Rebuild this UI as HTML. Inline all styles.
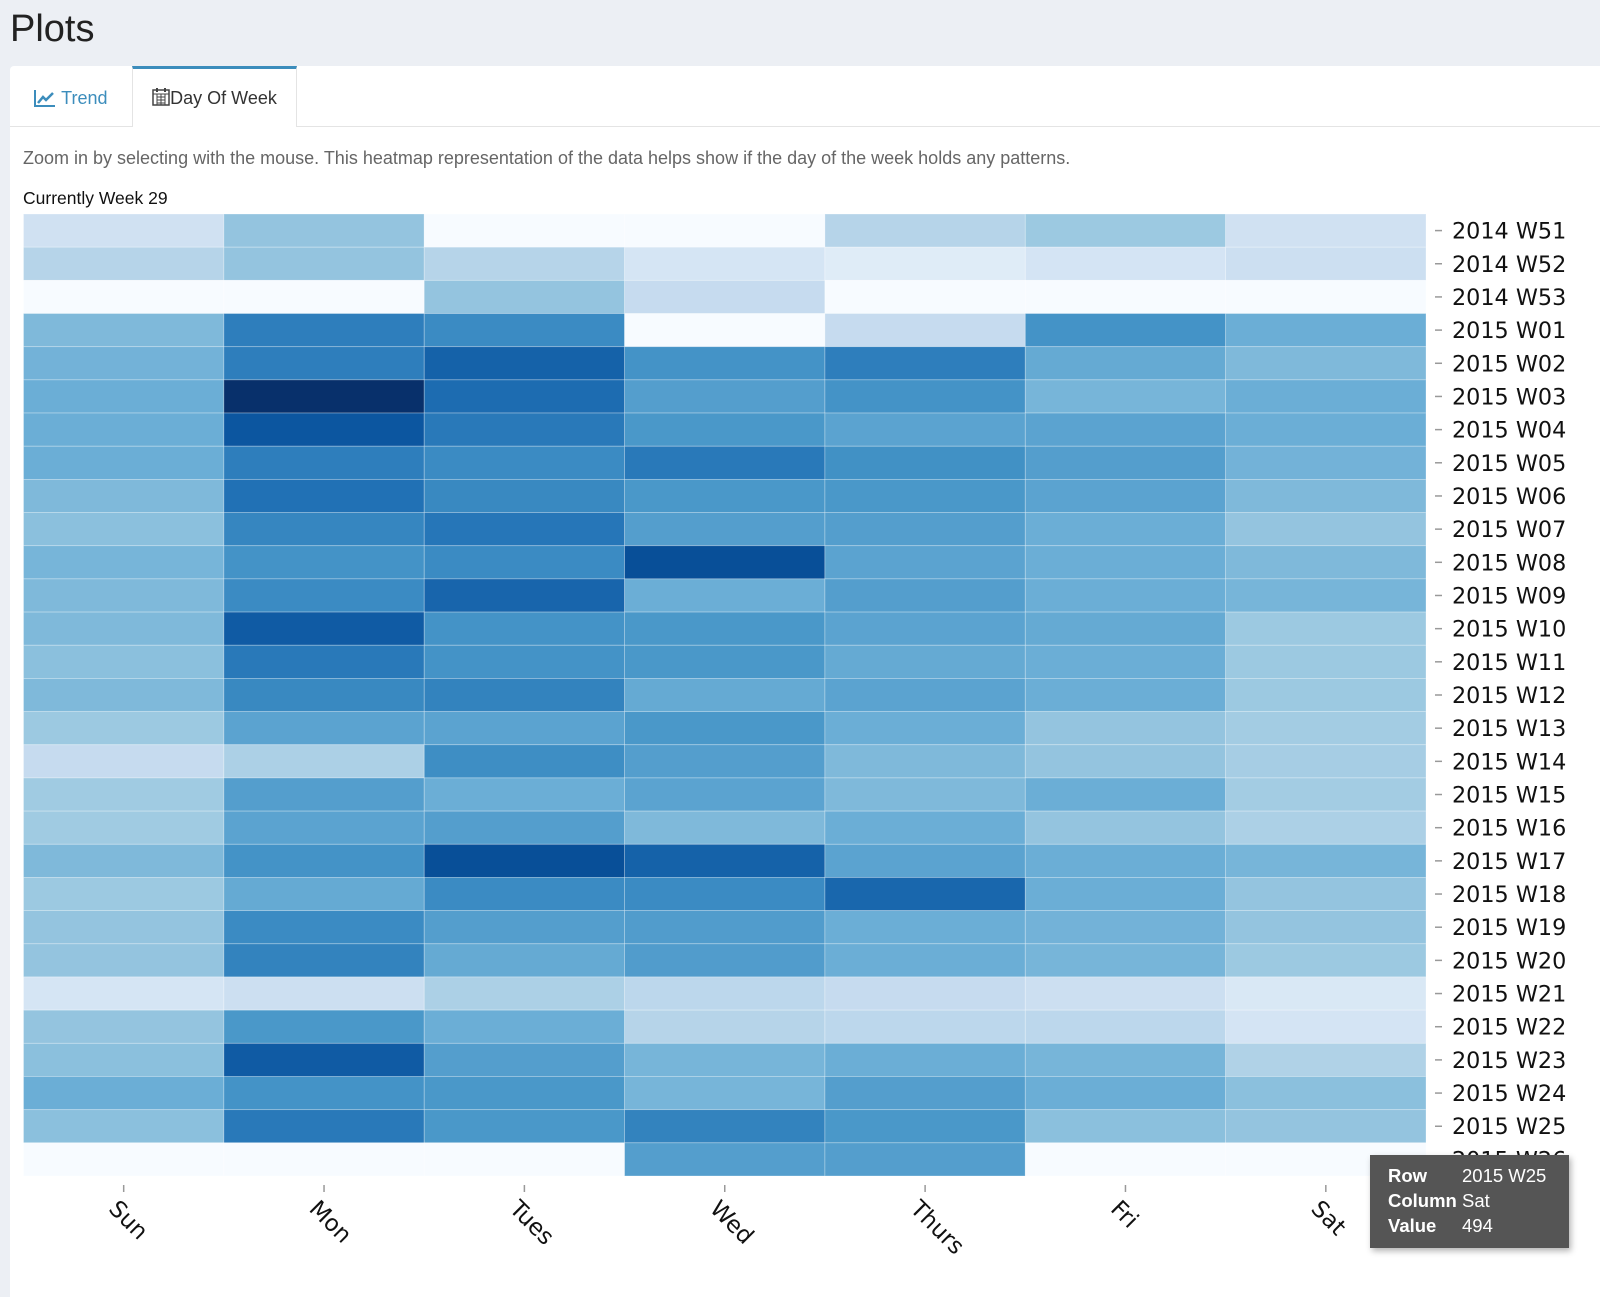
<!DOCTYPE html>
<html><head><meta charset="utf-8">
<style>
body{margin:0;width:1600px;height:1297px;background:#eceff4;font-family:"Liberation Sans",sans-serif;overflow:hidden;position:relative}
.title{position:absolute;left:10px;top:8px;font-size:38px;color:#222}
.panel{position:absolute;left:10px;top:66px;right:0;bottom:0;background:#fff;border-radius:4px 0 0 0}
.tabbar{position:absolute;left:0;top:0;right:0;height:60px;border-bottom:1px solid #e4e4e4}
.tab{position:absolute;top:0;height:60px;font-size:18px;line-height:64px}
.t1{left:0;width:122px;color:#3c8dbc;text-align:center}
.t2{left:122px;width:163px;border-top:3px solid #3c8dbc;border-right:1px solid #e4e4e4;border-left:1px solid #e4e4e4;height:58px;background:#fff;color:#333;text-align:center;line-height:58px}
.desc{position:absolute;left:13px;top:82px;font-size:18px;color:#666}
.cur{position:absolute;left:13px;top:122px;font-size:17.5px;color:#111}
svg{position:absolute;left:0;top:0}
.tip{position:absolute;left:1370px;top:1155px;width:199px;height:93px;background:#555;box-shadow:2px 3px 6px rgba(0,0,0,.3);color:#fff;font-size:18.5px}
.tip div{position:absolute;left:18px}
.tip span{position:absolute;font-weight:normal}
</style></head><body>
<div class="title">Plots</div>
<div class="panel">
 <div class="tabbar">
  <div class="tab t1">
   <svg style="position:relative;display:inline-block;vertical-align:-3px" width="22" height="18" viewBox="0 0 22 18"><path d="M1 1V17H21" fill="none" stroke="#3c8dbc" stroke-width="2"/><path d="M4 14L9 8L12 11L19 4" fill="none" stroke="#3c8dbc" stroke-width="2.5"/></svg> Trend</div>
  <div class="tab t2">
   <svg style="position:relative;display:inline-block;vertical-align:-2px" width="18" height="19" viewBox="0 0 18 19"><rect x="1" y="3" width="16" height="15" fill="none" stroke="#444" stroke-width="1.5"/><path d="M1 7H17M5 10H13M5 13H13M5 16H13M5 7V18M9 7V18M13 7V18" stroke="#444" stroke-width="1"/><path d="M5 1V5M13 1V5" stroke="#444" stroke-width="2"/></svg>Day Of Week</div>
 </div>
 <div class="desc">Zoom in by selecting with the mouse. This heatmap representation of the data helps show if the day of the week holds any patterns.</div>
 <div class="cur">Currently Week 29</div>
</div>
<svg id="chart" width="1600" height="1297"></svg>
<div class="tip">
 <div style="top:10px"><b>Row</b><span style="left:74px;white-space:nowrap">2015 W25</span></div>
 <div style="top:35px"><b>Column</b><span style="left:74px">Sat</span></div>
 <div style="top:60px"><b>Value</b><span style="left:74px">494</span></div>
</div>
<script>
const days=["Sun","Mon","Tues","Wed","Thurs","Fri","Sat"];
const weeks=["2014 W51","2014 W52","2014 W53","2015 W01","2015 W02","2015 W03","2015 W04","2015 W05","2015 W06","2015 W07","2015 W08","2015 W09","2015 W10","2015 W11","2015 W12","2015 W13","2015 W14","2015 W15","2015 W16","2015 W17","2015 W18","2015 W19","2015 W20","2015 W21","2015 W22","2015 W23","2015 W24","2015 W25","2015 W26"];
const values=[
[347,494,null,null,420,479,347],
[420,494,420,325,288,332,362],
[null,null,494,384,null,null,null],
[531,715,678,null,384,656,568],
[553,715,795,656,715,582,531],
[568,935,765,619,656,545,568],
[568,830,729,641,604,604,568],
[568,715,678,729,663,619,553],
[531,751,685,641,641,604,531],
[509,692,737,619,619,568,494],
[545,656,678,850,604,568,531],
[531,678,785,568,619,568,545],
[531,815,656,641,604,582,479],
[509,729,656,641,582,568,479],
[531,685,700,582,604,568,479],
[479,604,604,641,568,494,465],
[384,443,670,619,531,494,457],
[472,619,568,604,531,568,465],
[472,604,619,531,568,494,443],
[531,656,850,795,604,568,545],
[479,582,678,678,780,568,494],
[494,678,619,626,568,553,494],
[494,700,582,626,568,545,479],
[325,362,443,406,384,362,310],
[494,641,568,420,406,406,332],
[509,815,619,545,568,545,435],
[568,656,641,545,619,568,509],
[509,729,641,700,641,509,494],
[null,null,null,619,619,null,null]];
const vmin=200,vmax=935;
const stops=["#f7fbff","#deebf7","#c6dbef","#9ecae1","#6baed6","#4292c6","#2171b5","#08519c","#08306b"];
const X0=23.5,X1=1426,Y0=214,Y1=1176;
const cw=(X1-X0)/days.length, rh=(Y1-Y0)/weeks.length;
const xs=i=>X0+i*cw, ys=j=>Y0+j*rh;
function hex(h){return [1,3,5].map(k=>parseInt(h.substr(k,2),16));}
function color(v){if(v==null)return stops[0];let t=Math.max(0,Math.min(1,(v-vmin)/(vmax-vmin)))*(stops.length-1);let i=Math.min(Math.floor(t),stops.length-2),f=t-i;const a=hex(stops[i]),b=hex(stops[i+1]);return "rgb("+a.map((c,k)=>Math.round(c+(b[k]-c)*f)).join(",")+")";}
const svg=document.getElementById('chart');const NS="http://www.w3.org/2000/svg";
function mk(t,at){const e=document.createElementNS(NS,t);for(const k in at)e.setAttribute(k,at[k]);svg.appendChild(e);return e;}
weeks.forEach((w,j)=>{days.forEach((d,i)=>{
 const r=mk('rect',{x:xs(i),y:ys(j),width:cw,height:rh,fill:color(values[j][i]),stroke:'rgba(255,255,255,0.35)','stroke-width':0.8});
 
 
});
 const tk=mk('line',{x1:1435,x2:1442,y1:ys(j)+rh/2,y2:ys(j)+rh/2,stroke:'#999','stroke-width':1.5});
 
 
 const t=mk('text',{x:1452,y:ys(j)+rh/2+8,'font-size':22.3,fill:'#111','font-family':'DejaVu Sans, sans-serif'});
 t.textContent=w;
 
 
});
days.forEach((d,i)=>{
 const cx=xs(i)+cw/2;
 const tk=mk('line',{x1:cx,x2:cx,y1:1185,y2:1192,stroke:'#999','stroke-width':1.5});
 
 
 const t=mk('text',{x:cx-16,y:1210,'font-size':23,fill:'#111','font-family':'DejaVu Sans, sans-serif',transform:'rotate(45 '+(cx-16)+' 1210)'});
 t.textContent=d;
 
 
});
</script>
</body></html>
